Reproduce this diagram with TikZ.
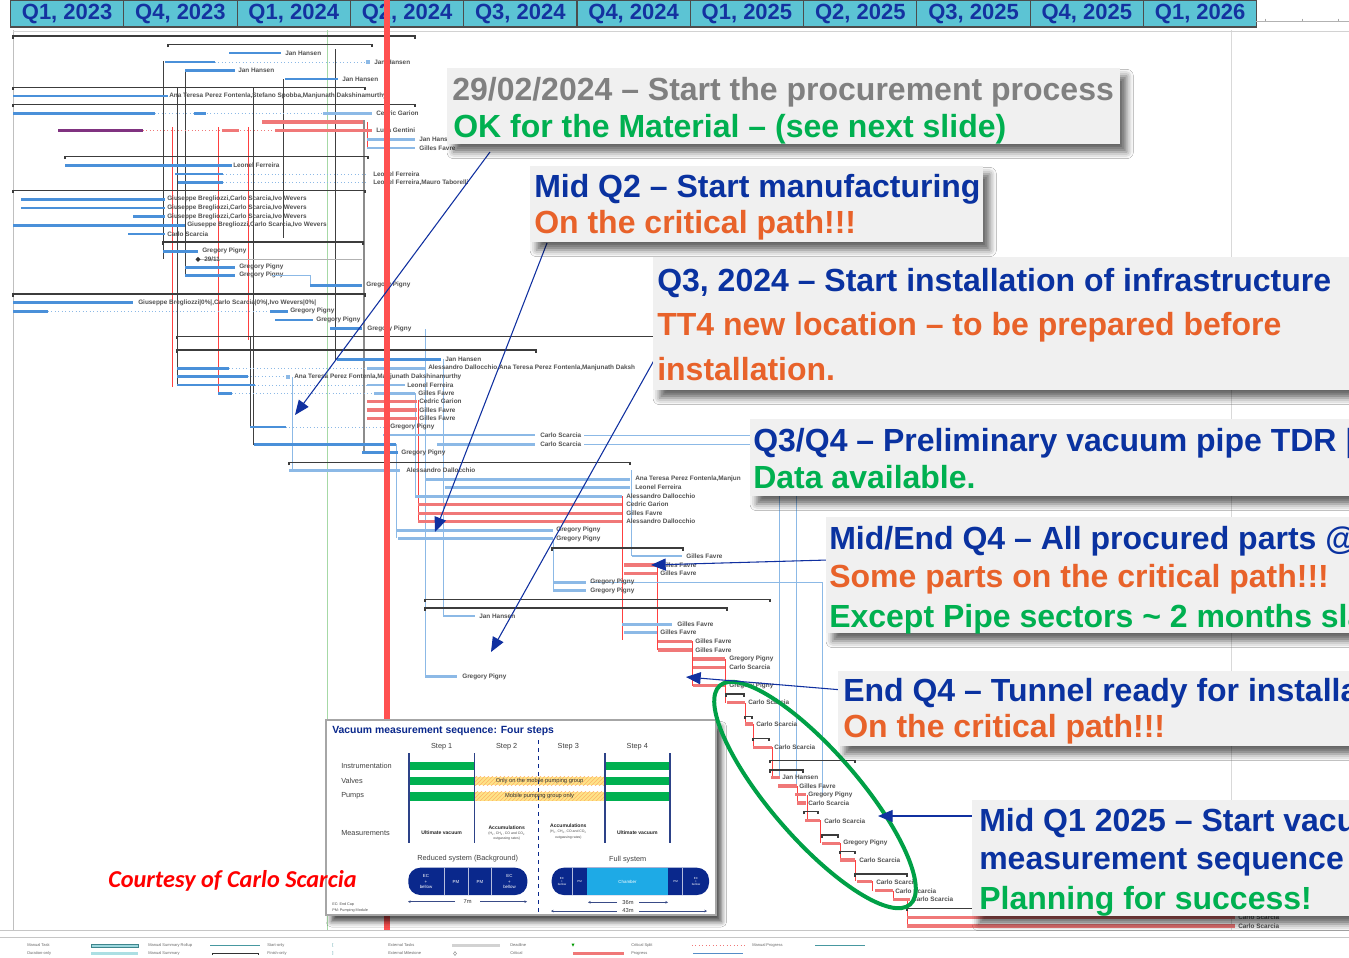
\documentclass[tikz,border=0pt]{standalone}
\usepackage{fontspec}
\setmainfont{Liberation Sans}
\newfontfamily\courtesyfont{Carlito}
\usetikzlibrary{arrows.meta,shadows.blur,patterns,fit}

\definecolor{hdrfill}{RGB}{92,196,212}
\definecolor{hdrtext}{RGB}{20,50,160}
\definecolor{gblue}{RGB}{74,144,217}
\definecolor{glight}{RGB}{140,185,230}
\definecolor{gred}{RGB}{240,120,120}
\definecolor{gsum}{RGB}{60,60,60}
\definecolor{cnavy}{RGB}{10,50,160}
\definecolor{corange}{RGB}{232,98,42}
\definecolor{cgreen}{RGB}{0,176,80}
\definecolor{cgray}{RGB}{128,128,128}
\definecolor{boxfill}{RGB}{240,240,240}
\definecolor{arrowblue}{RGB}{16,48,160}
\definecolor{ellgreen}{RGB}{0,160,70}
\definecolor{todayred}{RGB}{255,80,80}
\definecolor{insetblue}{RGB}{10,40,140}
\definecolor{insetgreen}{RGB}{0,176,80}
\definecolor{chamber}{RGB}{30,170,230}
\definecolor{legteal}{RGB}{90,190,200}

% auto-named text nodes
\newcount\gnodecount
\newcommand\glabel[4][]{\global\advance\gnodecount by 1\relax
  \edef\glabelname{g\the\gnodecount}\node[#1] (\glabelname) at (#2,#3) {#4};}
% task bar with its resource label: style, x1, x2, y, label x, text
\newcommand\gtask[6]{\draw[#1] (#2,#4) -- (#3,#4);\glabel[tl]{#5}{#4}{#6}}
% summary bar with end ticks: x1, x2, y
\newcommand\gsum[3]{\draw[smy] (#1,#3+2.5) -- (#1,#3) -- (#2,#3) -- (#2,#3+2.5);}

\begin{document}
\begin{tikzpicture}[x=0.75pt,y=-0.75pt,
  bl/.style={draw=gblue,line width=2.1pt},
  lb/.style={draw=glight,line width=2.1pt},
  rd/.style={draw=gred,line width=2.6pt},
  pu/.style={draw=violet!60!gray,line width=2.1pt},
  dl/.style={draw=glight,dotted,line width=0.6pt},
  rdl/.style={draw=gred,dotted,line width=0.6pt},
  smy/.style={draw=gsum,line width=1pt},
  lkb/.style={draw=glight,line width=0.6pt},
  lkr/.style={draw=red!75,line width=0.6pt},
  lkk/.style={draw=black!75,line width=0.7pt},
  tl/.style={anchor=west,inner sep=0pt,font=\bfseries\fontsize{4.8}{5.5}\selectfont,text=black!68},
  hdrcell/.style={fill=hdrfill,draw=black!70,line width=0.8pt},
  hdrtxt/.style={inner sep=0pt,font=\bfseries\fontsize{16.5}{18}\selectfont,text=hdrtext},
  callout/.style={fill=boxfill,draw=none,inner sep=0pt,
    blur shadow={shadow xshift=5pt,shadow yshift=-6pt,shadow blur radius=5pt,shadow opacity=60}},
  ctext/.style={anchor=base west,inner sep=0pt,font=\bfseries\fontsize{24}{28}\selectfont},
  callarrow/.style={draw=arrowblue,line width=0.8pt,-{Triangle[length=11pt,width=9pt]}},
  inttl/.style={anchor=west,inner sep=0pt,font=\bfseries\fontsize{7.8}{9}\selectfont,text=insetblue},
  instep/.style={inner sep=0pt,font=\fontsize{5.5}{6}\selectfont,text=black!75},
  inrow/.style={anchor=west,inner sep=0pt,font=\fontsize{5.5}{6}\selectfont,text=black!75},
  insline/.style={draw=insetblue!70!gray,line width=0.8pt},
  inbar/.style={inner sep=0pt,font=\fontsize{4.3}{5}\selectfont,text=black!80},
  inmeas/.style={inner sep=0pt,font=\bfseries\fontsize{3.8}{4.5}\selectfont,text=black!85},
  insub/.style={inner sep=0pt,font=\fontsize{2.6}{3}\selectfont,text=black!70},
  inpill/.style={inner sep=0pt,align=center,font=\fontsize{3.3}{3.8}\selectfont,text=white},
  inpills/.style={inner sep=0pt,align=center,font=\fontsize{2.2}{2.6}\selectfont,text=white},
  insmall/.style={anchor=west,inner sep=0pt,font=\fontsize{2.8}{3.2}\selectfont,text=black!70},
  indim/.style={draw=insetblue!60!gray,line width=0.4pt},
  lg/.style={anchor=west,inner sep=0pt,font=\fontsize{3}{3.5}\selectfont,text=black!60}]

\path[fill=white] (0,0) rectangle (1349,957);
\useasboundingbox (0,0) rectangle (1349,957);

% ---------- grid ----------
\draw[gray!50,line width=0.6pt] (13,30) -- (13,930);
\draw[gray!30,line width=0.6pt] (1231,30) -- (1231,930);
\draw[gray!45,line width=0.6pt] (0,930) -- (1349,930);
\draw[gray!45,line width=0.6pt] (0,937) -- (1349,937);
\draw[gray!35,line width=0.5pt] (13,31) -- (1349,31);
\draw[green!40!gray!50,line width=0.5pt] (327,30) -- (327,930);

% ---------- links ----------
\draw[lkk] (163,61) -- (163,259);
\draw[lkk] (177,87) -- (177,385);
\draw[lkk] (185,72) -- (185,275);
\draw[lkk] (253,87) -- (253,445);
\draw[lkk] (283,79) -- (283,238);
\draw[lkk] (335,49) -- (335,360);
\draw[lkk] (250,336) -- (250,427);
\draw[draw=black!45,line width=1.3pt] (364,120) -- (364,452);
\draw[lkr] (172,127) -- (172,387);
\draw[lkr] (218,127) -- (218,393);
\draw[lkr] (248,127) -- (248,340);
\draw[lkr] (367,122) -- (367,148);
\draw[lkr] (418,400) -- (418,522);
\draw[lkr] (622,496) -- (622,640);
\draw[lkr] (657,565) -- (657,650);
\draw[lkr] (692,641) -- (692,686);
\draw[lkr] (725,659) -- (725,703);
\draw[lkr] (745,703) -- (745,724);
\draw[lkr] (753,724) -- (753,747);
\draw[lkr] (772,747) -- (772,777);
\draw[lkr] (797,786) -- (797,803);
\draw[lkr] (807,795) -- (807,820);
\draw[lkr] (820,820) -- (820,843);
\draw[lkr] (840,843) -- (840,860);
\draw[lkr] (855,860) -- (855,881);
\draw[lkr] (872,881) -- (872,891);
\draw[lkr] (893,891) -- (893,899);
\draw[lkr] (907,899) -- (907,926);
\draw[lkb] (292,377) -- (292,470);
\draw[lkb] (396.7,444) -- (396.7,538);
\draw[lkb] (415,393) -- (415,496);
\draw[lkb] (425.7,329) -- (425.7,676);
\draw[lkb] (443.3,359) -- (443.3,616);
\draw[lkb] (631,470) -- (631,556);
\draw[lkb] (553.7,540) -- (553.7,591);
\draw[lkb] (584,435) -- (779,435) -- (779,777);
\draw[lkb] (584,444) -- (796,444) -- (796,786);
\draw[lkb] (590,582) -- (822,582) -- (822,795);

% ---------- tasks ----------
\gsum{13}{415}{36}
\gsum{168}{372}{44.7}
\gtask{bl}{229}{281}{53}{285}{Jan Hansen}
\draw[bl] (165,62) -- (215,62); \draw[dl] (215,62) -- (366,62);
\fill[glight] (366,60) rectangle (370,64);
\glabel[tl]{374}{62}{Jan Hansen}
\gtask{bl}{185}{235}{70.7}{238}{Jan Hansen}
\gtask{bl}{285}{338}{79}{342}{Jan Hansen}
\gsum{13}{365}{87.3}
\gtask{bl}{13}{168}{96}{169}{Ana Teresa Perez Fontenla,Stefano Spobba,Manjunath Dakshinamurthy}
\gsum{13}{415}{104.7}
\draw[bl] (13,113.3) -- (155,113.3); \draw[dl] (155,113.3) -- (323,113.3);
\draw[bl] (194,113.3) -- (206,113.3);
\gtask{lb}{323}{372}{113.3}{376}{Cedric Garion}
\draw[rd] (262,122) -- (363,122);
\draw[pu] (58,130.7) -- (143,130.7); \draw[rdl] (143,130.7) -- (275,130.7);
\draw[rd] (222,130.7) -- (239,130.7);
\gtask{rd}{275}{372}{130.7}{376}{Luca Gentini}
\gtask{lb}{367}{415}{139.3}{419}{Jan Hansen}
\gtask{lb}{367}{415}{148}{419}{Gilles Favre}
\gsum{65}{368}{156.7}
\gtask{bl}{65}{232}{165.3}{233}{Leonel Ferreira}
\draw[bl] (175,174) -- (223,174); \draw[dl] (223,174) -- (368,174);
\glabel[tl]{373}{174}{Leonel Ferreira}
\draw[bl] (178,182.7) -- (223,182.7); \draw[dl] (223,182.7) -- (368,182.7);
\glabel[tl]{373}{182.7}{Leonel Ferreira,Mauro Taborelli}
\gsum{13}{365}{190.7}
\gtask{bl}{21}{165}{199.3}{167}{Giuseppe Bregliozzi,Carlo Scarcia,Ivo Wevers}
\gtask{bl}{21}{165}{208}{167}{Giuseppe Bregliozzi,Carlo Scarcia,Ivo Wevers}
\gtask{bl}{133}{165}{216.7}{167}{Giuseppe Bregliozzi,Carlo Scarcia,Ivo Wevers}
\gtask{bl}{13}{185}{225.3}{187}{Giuseppe Bregliozzi,Carlo Scarcia,Ivo Wevers}
\gtask{bl}{128}{165}{234}{167}{Carlo Scarcia}
\gsum{163}{363}{242}
\gtask{bl}{163}{198}{251.3}{202}{Gregory Pigny}
\draw[gray!60,line width=0.6pt] (196,259.3) -- (362,259.3);
\fill[black!80] (198,256.8) -- (200.5,259.3) -- (198,261.8) -- (195.5,259.3) -- cycle;
\glabel[tl]{204}{259.3}{29/11}
\gtask{bl}{185}{235}{267.3}{239}{Gregory Pigny}
\gtask{bl}{185}{235}{275.3}{239}{Gregory Pigny}
\draw[lkb] (272,275.3) -| (310,285.3);
\gtask{bl}{310}{362}{285.3}{366}{Gregory Pigny}
\gsum{13}{365}{294}
\gtask{bl}{13}{133}{302.7}{138}{Giuseppe Bregliozzi|0\%|,Carlo Scarcia|0\%|,Ivo Wevers|0\%|}
\draw[bl] (13,311.3) -- (48,311.3); \draw[dl] (48,311.3) -- (270,311.3);
\gtask{bl}{270}{288}{311.3}{290}{Gregory Pigny}
\gtask{bl}{275}{313}{320}{316}{Gregory Pigny}
\gtask{bl}{330}{362}{328.7}{367}{Gregory Pigny}
\gsum{177}{655}{336.7}
\gsum{177}{536}{350}
\gtask{bl}{337}{441}{359.3}{445}{Jan Hansen}
\draw[bl] (177,368.3) -- (229,368.3); \draw[dl] (229,368.3) -- (367,368.3);
\gtask{lb}{367}{425}{368.3}{428}{Alessandro Dallocchio,Ana Teresa Perez Fontenla,Manjunath Daksh}
\draw[bl] (177,376.7) -- (248,376.7); \draw[dl] (248,376.7) -- (286,376.7);
\fill[glight] (286,374.7) rectangle (290,378.7);
\glabel[tl]{294}{376.7}{Ana Teresa Perez Fontenla,Manjunath Dakshinamurthy}
\draw[bl] (177,385) -- (255,385); \draw[dl] (255,385) -- (367,385);
\gtask{lb}{367}{405}{385}{407}{Leonel Ferreira}
\draw[bl] (218,393.3) -- (232,393.3); \draw[dl] (232,393.3) -- (374,393.3);
\gtask{lb}{374}{415}{393.3}{418}{Gilles Favre}
\gtask{rd}{367}{417}{401.7}{419}{Cedric Garion}
\gtask{rd}{367}{417}{410}{419}{Gilles Favre}
\gtask{rd}{367}{417}{418.3}{419}{Gilles Favre}
\draw[bl] (250,427) -- (286,427); \draw[dl] (286,427) -- (385,427);
\glabel[tl]{390}{427}{Gregory Pigny}
\gtask{lb}{383}{535}{435}{540}{Carlo Scarcia}
\draw[bl] (254,444.3) -- (396,444.3);
\gtask{lb}{437}{535}{444.3}{540}{Carlo Scarcia}
\gtask{bl}{362}{398}{452.7}{401}{Gregory Pigny}
\gsum{289}{630}{462.7}
\gtask{lb}{289}{400}{470.7}{406}{Alessandro Dallocchio}
\gtask{lb}{425}{630}{479.3}{635}{Ana Teresa Perez Fontenla,Manjun}
\gtask{lb}{445}{630}{487.7}{635}{Leonel Ferreira}
\gtask{lb}{415}{622}{496.3}{626}{Alessandro Dallocchio}
\gtask{rd}{418}{622}{504.7}{626}{Cedric Garion}
\gtask{rd}{418}{622}{513.3}{626}{Gilles Favre}
\gtask{rd}{418}{622}{521.7}{626}{Alessandro Dallocchio}
\gtask{lb}{396}{553}{530.3}{556}{Gregory Pigny}
\gtask{lb}{398}{553}{538.7}{556}{Gregory Pigny}
\gsum{552}{683}{548}
\gtask{lb}{632}{682}{556}{686}{Gilles Favre}
\gtask{rd}{624}{657}{565}{660}{Gilles Favre}
\gtask{rd}{624}{657}{573.3}{660}{Gilles Favre}
\gtask{lb}{553}{586}{582.3}{590}{Gregory Pigny}
\gtask{lb}{553}{586}{590.7}{590}{Gregory Pigny}
\gsum{425}{770}{599.5}
\gsum{425}{727}{608}
\gtask{lb}{443}{475}{616}{479}{Jan Hansen}
\gtask{lb}{622}{672}{624.3}{677}{Gilles Favre}
\gtask{lb}{624}{657}{632.7}{660}{Gilles Favre}
\gtask{rd}{658}{692}{641.7}{695}{Gilles Favre}
\gtask{rd}{658}{692}{650}{695}{Gilles Favre}
\gtask{rd}{693}{725}{659}{729}{Gregory Pigny}
\gtask{rd}{693}{725}{667.3}{729}{Carlo Scarcia}
\gtask{lb}{425}{457}{676.5}{462}{Gregory Pigny}
\gtask{rd}{693}{725}{685.7}{729}{Gregory Pigny}
\gsum{726}{744}{694}
\gtask{rd}{727}{745}{702.7}{748}{Carlo Scarcia}
\gsum{745}{752}{716.7}
\gtask{rd}{745}{753}{724}{756}{Carlo Scarcia}
\gsum{753}{769}{738.3}
\gtask{rd}{753}{772}{747.3}{774}{Carlo Scarcia}
\gsum{770}{855}{760.7}
\gsum{770}{803}{770}
\gtask{rd}{771}{780}{777.3}{782}{Jan Hansen}
\gtask{rd}{778}{797}{786}{799}{Gilles Favre}
\gtask{rd}{795}{806}{794.7}{808}{Gregory Pigny}
\gtask{rd}{797}{806}{803}{808}{Carlo Scarcia}
\gsum{804}{818}{811.7}
\gtask{rd}{805}{820}{820.7}{824}{Carlo Scarcia}
\gsum{822}{838}{835}
\gtask{rd}{822}{840}{843.3}{843}{Gregory Pigny}
\gsum{840}{855}{851.7}
\gtask{rd}{840}{855}{860}{859}{Carlo Scarcia}
\gsum{855}{907}{874}
\gtask{rd}{857}{872}{881.7}{876}{Carlo Scarcia}
\gtask{rd}{875}{893}{890.7}{895}{Carlo Scarcia}
\gtask{rd}{893}{910}{899.3}{912}{Carlo Scarcia}
\gsum{907}{1235}{908.3}
\gtask{rd}{907}{1235}{917.3}{1238}{Carlo Scarcia}
\gtask{rd}{907}{1235}{926}{1238}{Carlo Scarcia}

% ---------- timescale header ----------
\foreach \q [count=\i from 0] in {{Q1, 2023},{Q4, 2023},{Q1, 2024},{Q2, 2024},{Q3, 2024},{Q4, 2024},{Q1, 2025},{Q2, 2025},{Q3, 2025},{Q4, 2025},{Q1, 2026}}{
  \draw[hdrcell] (10.5+113.3*\i,0) rectangle ++(113.3,27);
  \node[hdrtxt] (h\i) at (10.5+113.3*\i+56.65,14) {\q};
}
\draw[gray!60,line width=0.5pt] (1256,21) -- (1349,21);
\foreach \tx in {1265,1302,1338} \draw[gray!70,line width=0.5pt] (\tx,18.5) -- (\tx,21);

% ---------- status date ----------
\draw[todayred,line width=3.8pt] (387,0) -- (387,930);

% ---------- inset: vacuum measurement sequence ----------
\node[fit={(326,720) (716,915)},inner sep=0pt,fill=white,draw=gray!70,line width=0.8pt,
  blur shadow={shadow xshift=4pt,shadow yshift=-5pt,shadow blur radius=4pt,shadow opacity=70}] (inset) {};
\glabel[inttl]{332}{731}{Vacuum measurement sequence: Four steps}
\glabel[instep]{441.7}{747}{Step 1}
\glabel[instep]{506.7}{747}{Step 2}
\glabel[instep]{568.3}{747}{Step 3}
\glabel[instep]{637.3}{747}{Step 4}
\glabel[inrow]{341}{766}{Instrumentation}
\glabel[inrow]{341}{781}{Valves}
\glabel[inrow]{341}{796}{Pumps}
\glabel[inrow]{341}{833}{Measurements}
\foreach \xa/\xb in {409/474.3,605/670}{
  \fill[insetgreen] (\xa,761.7) rectangle (\xb,770);
  \fill[insetgreen] (\xa,776.7) rectangle (\xb,785);
  \fill[insetgreen] (\xa,791.7) rectangle (\xb,800.7);
}
\fill[yellow!60!orange!45] (474.3,776.7) rectangle (605,785);
\fill[yellow!60!orange!45] (474.3,791.7) rectangle (605,800.7);
\fill[pattern=north east lines,pattern color=orange!60] (474.3,776.7) rectangle (605,785);
\fill[pattern=north east lines,pattern color=orange!60] (474.3,791.7) rectangle (605,800.7);
\foreach \xl in {409,474.3,605,670} \draw[insline] (\xl,753) -- (\xl,843);
\draw[insetblue,dashed,line width=0.7pt] (538.3,740) -- (538.3,915);
\glabel[inbar]{539.6}{781}{Only on the mobile pumping group}
\glabel[inbar]{539.6}{796.2}{Mobile pumping group only}
\glabel[inmeas]{441.7}{833}{Ultimate vacuum}
\glabel[inmeas]{506.7}{827.5}{Accumulations}
\glabel[insub]{506.7}{833.5}{(H\textsubscript{2}, CH\textsubscript{4}, CO and CO\textsubscript{2}}
\glabel[insub]{506.7}{839}{outgassing rates)}
\glabel[inmeas]{568.3}{826}{Accumulations}
\glabel[insub]{568.3}{832}{(H\textsubscript{2}, CH\textsubscript{4}, CO and CO\textsubscript{2}}
\glabel[insub]{568.3}{837.5}{outgassing rates)}
\glabel[inmeas]{637.3}{833}{Ultimate vacuum}
\glabel[instep]{467.7}{858.3}{Reduced system (Background)}
\glabel[instep]{627.7}{859.3}{Full system}
% reduced system
\fill[insetblue,rounded corners=9pt] (408.3,867.7) rectangle (527.3,895);
\foreach \xd in {444,468,491.7} \draw[white!70!insetblue,line width=0.5pt] (\xd,867.7) -- (\xd,895);
\glabel[inpill]{426}{881.5}{EC\\+\\bellow}
\glabel[inpill]{456}{881.5}{PM}
\glabel[inpill]{480}{881.5}{PM}
\glabel[inpill]{509.5}{881.5}{EC\\+\\bellow}
% full system
\fill[insetblue,rounded corners=9pt] (551.7,867.7) rectangle (709,895);
\fill[chamber] (586.7,867.7) rectangle (668.3,895);
\foreach \xd in {572.3,682.7} \draw[white!70!insetblue,line width=0.5pt] (\xd,867.7) -- (\xd,895);
\glabel[inpills]{562}{881.5}{EC\\+\\bellow}
\glabel[inpills]{579.5}{881.5}{PM}
\glabel[inpill]{627.5}{881.5}{Chamber}
\glabel[inpills]{675.5}{881.5}{PM}
\glabel[inpills]{696}{881.5}{EC\\+\\bellow}
% dimensions
\glabel[inbar]{467.7}{901.7}{7m}
\draw[indim,-{Stealth[length=2pt,width=2pt]}] (455,901.7) -- (408,901.7);
\draw[indim,-{Stealth[length=2pt,width=2pt]}] (480,901.7) -- (527,901.7);
\glabel[inbar]{628}{902.3}{36m}
\draw[indim,-{Stealth[length=2pt,width=2pt]}] (617,902.3) -- (588,902.3);
\draw[indim,-{Stealth[length=2pt,width=2pt]}] (639,902.3) -- (668,902.3);
\glabel[inbar]{628}{911}{43m}
\draw[indim,-{Stealth[length=2pt,width=2pt]}] (617,911) -- (551,911);
\draw[indim,-{Stealth[length=2pt,width=2pt]}] (639,911) -- (707,911);
\glabel[insmall]{332}{905}{EC: End Cap}
\glabel[insmall]{332}{911}{PM: Pumping Module}

% ---------- critical chain highlight ----------
\draw[ellgreen,line width=3pt,rotate around={-49:(815,795)}] (815,795) ellipse [x radius=145,y radius=44];

% ---------- credit ----------
\node[anchor=base west,inner sep=0pt,text=red,font=\courtesyfont\bfseries\itshape\fontsize{18.2}{20}\selectfont] (credit) at (108,887) {Courtesy of Carlo Scarcia};

% ---------- callout pointers ----------
\coordinate (a1s) at (490,152);   \coordinate (a1e) at (295,415);
\coordinate (a2s) at (547,243);   \coordinate (a2e) at (435,532);
\coordinate (a3s) at (657,355);   \coordinate (a3e) at (491,652);
\coordinate (a4s) at (828,560);   \coordinate (a4e) at (651,565);
\coordinate (a5s) at (843,690);   \coordinate (a5e) at (686,677);
\coordinate (a6s) at (974,816);   \coordinate (a6e) at (878,816);
\foreach \k in {1,...,6} \draw[callarrow] (a\k s) -- (a\k e);

% ---------- callouts ----------
\node[callout,fit={(447,68) (1120,144)}] (c1) {};
\node[callout,fit={(530,166) (983,242)}] (c2) {};
\node[callout,fit={(653,257) (1360,390)}] (c3) {};
\node[callout,fit={(750,419) (1360,496)}] (c4) {};
\node[callout,fit={(826,517) (1360,633)}] (c5) {};
\node[callout,fit={(838,671) (1360,746)}] (c6) {};
\node[callout,fit={(972,800) (1360,916)}] (c7) {};
\node[ctext,text=cgray] (c1a) at (452,100) {29/02/2024 – Start the procurement process};
\node[ctext,text=cgreen] (c1b) at (453,137) {OK for the Material – (see next slide)};
\node[ctext,text=cnavy] (c2a) at (534,197) {Mid Q2 – Start manufacturing};
\node[ctext,text=corange] (c2b) at (534,233) {On the critical path!!!};
\node[ctext,text=cnavy] (c3a) at (657,291) {Q3, 2024 – Start installation of infrastructure};
\node[ctext,text=corange] (c3b) at (657,335) {TT4 new location – to be prepared before};
\node[ctext,text=corange] (c3c) at (657,380) {installation.};
\node[ctext,text=cnavy] (c4a) at (753,451) {Q3/Q4 – Preliminary vacuum pipe TDR |};
\node[ctext,text=cgreen] (c4b) at (753,488) {Data available.};
\node[ctext,text=cnavy] (c5a) at (829,549) {Mid/End Q4 – All procured parts @};
\node[ctext,text=corange] (c5b) at (829,587) {Some parts on the critical path!!!};
\node[ctext,text=cgreen] (c5c) at (829,627) {Except Pipe sectors \textasciitilde{} 2 months sla};
\node[ctext,text=cnavy] (c6a) at (843,701) {End Q4 – Tunnel ready for installa};
\node[ctext,text=corange] (c6b) at (843,737) {On the critical path!!!};
\node[ctext,text=cnavy] (c7a) at (979,831) {Mid Q1 2025 – Start vacu};
\node[ctext,text=cnavy] (c7b) at (979,869) {measurement sequence};
\node[ctext,text=cgreen] (c7c) at (979,909) {Planning for success!};

% ---------- legend ----------
\glabel[lg]{27}{945.5}{Manual Task}
\draw[fill=legteal!60,draw=legteal!70!black,line width=0.3pt] (91,944) rectangle (138,947);
\glabel[lg]{148}{945.5}{Manual Summary Rollup}
\draw[legteal!80!black,line width=1.2pt] (210,945.5) -- (260,945.5);
\glabel[lg]{267}{945.5}{Start-only}
\glabel[lg,text=legteal!80!black]{332}{945.5}{[}
\glabel[lg]{388}{945.5}{External Tasks}
\fill[gray!35] (452,944.3) rectangle (500,946.7);
\glabel[lg]{510}{945.5}{Deadline}
\fill[green!60!black] (571.5,943.5) -- (574.5,943.5) -- (573,946.5) -- cycle;
\glabel[lg]{631}{945.5}{Critical Split}
\draw[gred,dotted,line width=0.6pt] (692,945.5) -- (745,945.5);
\glabel[lg]{752}{945.5}{Manual Progress}
\draw[legteal!80!black,line width=1.2pt] (815,945.5) -- (865,945.5);
\glabel[lg]{27}{953.5}{Duration-only}
\fill[legteal!50] (91,952.3) rectangle (138,954.8);
\glabel[lg]{148}{953.5}{Manual Summary}
\draw[black!80,line width=0.6pt] (212,955) -- (212,953) -- (258,953) -- (258,955);
\glabel[lg]{267}{953.5}{Finish-only}
\glabel[lg,text=legteal!80!black]{332}{953.5}{]}
\glabel[lg]{388}{953.5}{External Milestone}
\draw[gray,line width=0.3pt] (455,951.5) -- (456.5,953.5) -- (455,955.5) -- (453.5,953.5) -- cycle;
\glabel[lg]{510}{953.5}{Critical}
\fill[gred] (573,952.3) rectangle (624,955.3);
\glabel[lg]{631}{953.5}{Progress}
\draw[gblue!80!gray,line width=1.2pt] (693,953.5) -- (743,953.5);
\end{tikzpicture}
\end{document}
